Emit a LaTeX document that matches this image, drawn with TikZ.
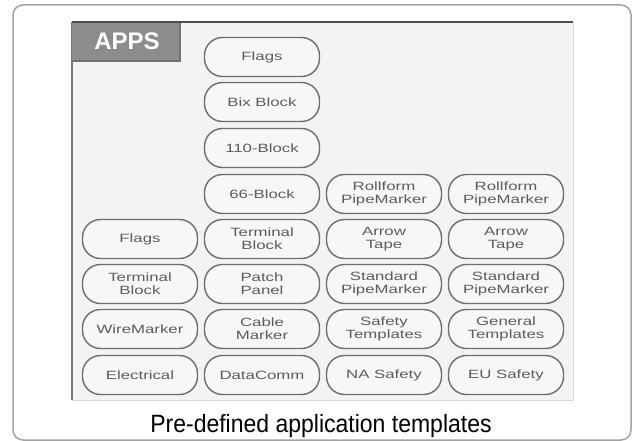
\documentclass[tikz,border=0pt]{standalone}
\usepackage{fontspec}
\setmainfont{Liberation Sans}
\newfontfamily\keyfont[FakeStretch=1.4]{Liberation Sans}
\newfontfamily\capfont[FakeStretch=0.92]{Liberation Sans}
\begin{document}
\begin{tikzpicture}[x=1pt,y=-1pt,
  key/.style={draw=keyline,line width=1.4pt,fill=keyfill,rounded corners=18pt,
    minimum width=115pt,minimum height=39pt,inner sep=0pt,align=center,
    text=keytext,font=\keyfont\fontsize{12}{13}\selectfont}]
  \definecolor{frameline}{HTML}{A3A3A3}
  \definecolor{screen}{HTML}{F3F3F3}
  \definecolor{screentop}{HTML}{4E4E4E}
  \definecolor{screenside}{HTML}{7A7A7A}
  \definecolor{tab}{HTML}{8C8C8C}
  \definecolor{keyline}{HTML}{6E6E6E}
  \definecolor{keyfill}{HTML}{F7F7F7}
  \definecolor{keytext}{HTML}{5C5C5C}
  \useasboundingbox (0,0) rectangle (637,441);
  \draw [frameline,line width=1.5pt,rounded corners=10pt] (13,5) rectangle (631,440);
  % screen
  \fill [screen] (72,22) rectangle (573,400);
  \draw [black!15,line width=1pt] (573,22) -- (573,400) -- (72,400);
  \draw [screenside,line width=2pt] (72,22) -- (72,400);
  \fill [tab] (72,22) rectangle (180,61);
  \draw [screentop!80,line width=1.5pt] (180,22) -- (180,61) -- (72,61);
  \draw [screentop,line width=2.5pt] (72,22) -- (573,22);
  \node [anchor=base,white,font=\bfseries\fontsize{24}{24}\selectfont] (apps) at (127,50) {APPS};
  % column 1
  \node [key] (flagsA) at (140,239) {Flags};
  \node [key] (termA) at (140,284) {Terminal\\Block};
  \node [key] (wire) at (140,329) {WireMarker};
  \node [key] (elec) at (140,375) {Electrical};
  % column 2
  \node [key] (flagsB) at (262,57) {Flags};
  \node [key] (bix) at (262,102) {Bix Block};
  \node [key] (block110) at (262,148) {110-Block};
  \node [key] (block66) at (262,194) {66-Block};
  \node [key] (termB) at (262,239) {Terminal\\Block};
  \node [key] (patch) at (262,284) {Patch\\Panel};
  \node [key] (cable) at (262,329) {Cable\\Marker};
  \node [key] (data) at (262,375) {DataComm};
  % column 3
  \node [key] (rollA) at (384,194) {Rollform\\PipeMarker};
  \node [key] (arrowA) at (384,239) {Arrow\\Tape};
  \node [key] (stdA) at (384,284) {Standard\\PipeMarker};
  \node [key] (safety) at (384,329) {Safety\\Templates};
  \node [key] (nasafe) at (384,375) {NA Safety};
  % column 4
  \node [key] (rollB) at (506,194) {Rollform\\PipeMarker};
  \node [key] (arrowB) at (506,239) {Arrow\\Tape};
  \node [key] (stdB) at (506,284) {Standard\\PipeMarker};
  \node [key] (general) at (506,329) {General\\Templates};
  \node [key] (eusafe) at (506,375) {EU Safety};
  \node [anchor=base,font=\capfont\fontsize{25}{25}\selectfont] (caption) at (321,432) {Pre-defined application templates};
\end{tikzpicture}
\end{document}
